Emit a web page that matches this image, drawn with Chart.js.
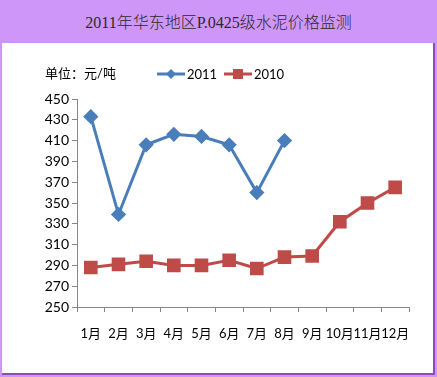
<!DOCTYPE html>
<html>
<head>
<meta charset="utf-8">
<script src="https://cdn.jsdelivr.net/npm/chart.js@4/dist/chart.umd.min.js"></script>
<style>
  html, body { margin: 0; padding: 0; }
  body { width: 437px; height: 377px; background: #cf96f9; position: relative; overflow: hidden; }
  #title {
    position: absolute; left: 0; top: 0; width: 437px; height: 43px;
    line-height: 45px; text-align: center; font-size: 16px; color: #2a2a2a;
    font-weight: 300;
    font-family: "Liberation Serif", "Noto Sans CJK SC", serif;
  }
  #panel {
    position: absolute; left: 2px; top: 43px; width: 431px; height: 330px;
    background: #fff; border-right: 2px solid #8a4cc0; border-bottom: 2px solid #8a4cc0;
  }
</style>
</head>
<body>
<div id="title">2011年华东地区P.0425级水泥价格监测</div>
<div id="panel"><canvas id="lineChart" width="431" height="330"></canvas></div>
<script>
// data
const months = ["1月", "2月", "3月", "4月", "5月", "6月", "7月", "8月", "9月", "10月", "11月", "12月"];
const price2011 = [433, 339, 406, 416, 414, 406, 360, 410, null, null, null, null];
const price2010 = [288, 291, 294, 290, 290, 295, 287, 298, 299, 332, 350, 365];
const unitLabel = "单位：元/吨";

const fontFamily = "Lato, 'Noto Sans CJK SC', sans-serif";

// legend di dalam canvas (garis + marker)
const legendPlugin = {
  id: "excelLegend",
  afterDraw(chart) {
    const ctx = chart.ctx;
    ctx.save();
    ctx.fillStyle = "#000";
    ctx.font = "13px " + fontFamily;
    ctx.textBaseline = "middle";
    ctx.fillText(unitLabel, 43, 31);

    const items = [
      { ds: chart.data.datasets[0], x: 155 },
      { ds: chart.data.datasets[1], x: 222 },
    ];
    items.forEach(({ ds, x }) => {
      const y = 31;
      ctx.strokeStyle = ds.borderColor;
      ctx.lineWidth = 3;
      ctx.beginPath();
      ctx.moveTo(x, y);
      ctx.lineTo(x + 28, y);
      ctx.stroke();
      ctx.fillStyle = ds.borderColor;
      const cx = x + 14;
      if (ds.pointStyle === "rectRot") {
        ctx.beginPath();
        ctx.moveTo(cx - 5, y);
        ctx.lineTo(cx, y - 5);
        ctx.lineTo(cx + 5, y);
        ctx.lineTo(cx, y + 5);
        ctx.closePath();
        ctx.fill();
      } else {
        ctx.fillRect(cx - 5, y - 5, 10, 10);
      }
      ctx.fillStyle = "#000";
      ctx.fillText(ds.label, x + 30, y + 1);
    });
    ctx.restore();
  },
};

const chartData = {
  labels: months,
  datasets: [
    {
      label: "2011",
      data: price2011,
      borderColor: "#4a7ebb",
      backgroundColor: "#4a7ebb",
      borderWidth: 3,
      pointStyle: "rectRot",
      pointRadius: 5.5,
      pointHoverRadius: 5.5,
      tension: 0,
    },
    {
      label: "2010",
      data: price2010,
      borderColor: "#be4b48",
      backgroundColor: "#be4b48",
      borderWidth: 3,
      pointStyle: "rect",
      pointRadius: 7.5,
      pointHoverRadius: 7.5,
      tension: 0,
    },
  ],
};

const chartConfig = {
  type: "line",
  data: chartData,
  plugins: [legendPlugin],
  options: {
    responsive: false,
    animation: false,
    layout: { padding: { left: 0, top: 56, right: 24, bottom: 0 } },
    scales: {
      x: {
        offset: true,
        afterFit: (scale) => { scale.height = 66; },
        grid: {
          offset: true,
          drawOnChartArea: false,
          tickLength: 5,
          color: "#868686",
          lineWidth: 1,
        },
        border: { color: "#868686", width: 1 },
        ticks: {
          color: "#000",
          padding: 14,
          maxRotation: 0,
          autoSkip: false,
          font: { family: fontFamily, size: 13 },
        },
      },
      y: {
        min: 250,
        max: 450,
        afterFit: (scale) => { scale.width = 75; },
        grid: {
          drawOnChartArea: false,
          tickLength: 5,
          color: "#868686",
        },
        border: { color: "#868686", width: 1 },
        ticks: {
          stepSize: 20,
          color: "#000",
          padding: 3,
          font: { family: fontFamily, size: 14 },
        },
      },
    },
    plugins: {
      legend: { display: false },
      tooltip: { enabled: false },
    },
  },
};

const lineChart = new Chart(document.getElementById("lineChart"), chartConfig);
</script>
</body>
</html>
